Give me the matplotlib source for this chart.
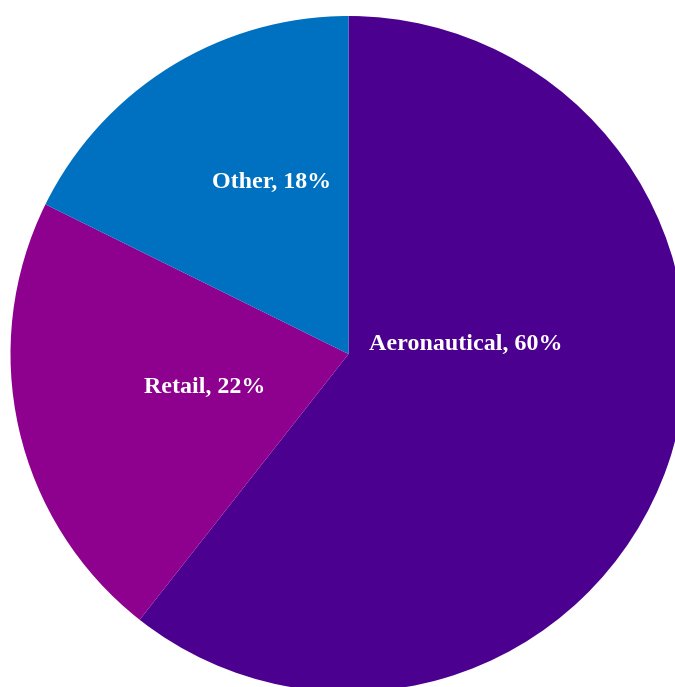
import matplotlib
matplotlib.use("Agg")
import matplotlib.pyplot as plt

# revenue share by segment; wedge sizes, labels as printed
segments = ["Aeronautical", "Retail", "Other"]
shares = [60.6, 21.7, 17.7]
share_labels = ["60%", "22%", "18%"]
colors = ["#4B0090", "#8E008E", "#0070C0"]

W, H = 675, 687
fig = plt.figure(figsize=(W / 100, H / 100), dpi=100)
ax = fig.add_axes([0, 0, 1, 1])

cx, cy, r = 348.5, H - 354, 338
ax.pie(shares, colors=colors, startangle=90, counterclock=False,
       center=(cx, cy), radius=r, frame=True,
       wedgeprops=dict(linewidth=0))
ax.set_xlim(0, W)
ax.set_ylim(0, H)
ax.set_axis_off()

label_pos = [(466, 344), (205, 387), (272, 182)]
for name, lab, (px, py) in zip(segments, share_labels, label_pos):
    ax.text(px, H - py, f"{name}, {lab}", ha="center", va="center",
            color="white", fontsize=17.3, fontweight="bold",
            family="Liberation Serif")

fig.savefig("out.png", dpi=100)
